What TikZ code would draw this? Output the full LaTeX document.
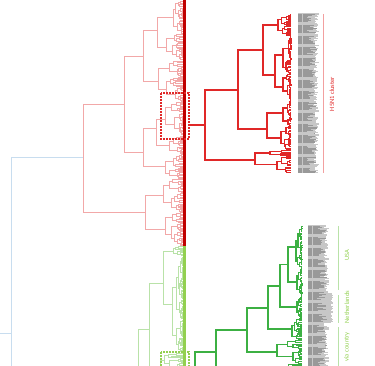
\documentclass[tikz,border=0pt]{standalone}
\usepackage{fontspec}
\setmainfont{Carlito}
\usetikzlibrary{positioning}

\definecolor{treepink}{HTML}{F2A8A8}
\definecolor{treered}{HTML}{E02828}
\definecolor{barred}{HTML}{C00000}
\definecolor{treegreen}{HTML}{3CB043}
\definecolor{palegreen}{HTML}{B9E2A8}
\definecolor{bargreen}{HTML}{92D050}
\definecolor{treeblue}{HTML}{C8DDEF}
\definecolor{labelred}{HTML}{F2A0A0}

% recursive clade: #1 x of clade root, #2 top, #3 bottom, #4 x of leaves, #5 line style
\newcommand\clade[5]{%
  \begingroup
  \pgfmathsetmacro\cspan{#3-#2}%
  \ifdim\cspan pt<4pt
    \pgfmathsetmacro\cya{#2+0.25*\cspan}%
    \pgfmathsetmacro\cyb{#2+0.75*\cspan}%
    \draw[#5] (#4,\cya) -| (#1,\cyb) -- (#4,\cyb);
  \else
    \pgfmathsetmacro\csplit{#2+(0.3+0.4*rnd)*\cspan}%
    \pgfmathsetmacro\cya{(#2+\csplit)/2}%
    \pgfmathsetmacro\cyb{(\csplit+#3)/2}%
    \pgfmathsetmacro\cxa{#1+(0.2+0.45*rnd)*(#4-#1)}%
    \pgfmathsetmacro\cxb{#1+(0.2+0.45*rnd)*(#4-#1)}%
    \draw[#5] (\cxa,\cya) -| (#1,\cyb) -- (\cxb,\cyb);
    \edef\cnext{\noexpand\clade{\cxa}{#2}{\csplit}{#4}{#5}%
      \noexpand\clade{\cxb}{\csplit}{#3}{#4}{#5}}%
    \cnext
  \fi
  \endgroup}

\begin{document}
\begin{tikzpicture}[
    x=1pt,y=-1pt,
    pinkline/.style={draw=treepink, line width=0.75pt},
    faintgreen/.style={draw=palegreen, line width=0.75pt},
    blueline/.style={draw=treeblue, line width=1pt},
    redline/.style={draw=treered, line width=1.1pt},
    greenline/.style={draw=treegreen, line width=1.1pt},
    zoombox/.style={dash pattern=on 2pt off 1pt, line width=1.1pt},
    bracket/.style={line width=0.7pt},
    grouptext/.style={font=\fontsize{6.5}{7}\selectfont, rotate=90, inner sep=0pt}
]
    \useasboundingbox (0,0) rectangle (375,366);
    \clip (0,0) rectangle (375,366);
    \pgfmathsetseed{11}

    % --- Root (blue) ---
    \draw[blueline] (0,333) -- (11,333);
    \draw[blueline] (11,380) -- (11,158) -- (83,158);

    % --- Full tree, upper part (pink) ---
    \draw[pinkline] (124,104) -| (83,212) -- (145,212);
    \draw[pinkline] (143,56) -| (124,152) -- (143,152);
    \draw[pinkline] (157,30) -| (143,81) -- (158,81);
    \clade{157}{0}{60}{183}{pinkline}
    \clade{158}{60}{102}{183}{pinkline}
    \draw[pinkline] (156,128) -| (143,166) -- (165,166);
    \clade{156}{102}{154}{183}{pinkline}
    \clade{165}{154}{178}{183}{pinkline}
    \draw[pinkline] (163,195) -| (145,229) -- (165,229);
    \clade{163}{178}{212}{183}{pinkline}
    \clade{165}{212}{246}{183}{pinkline}

    % --- Full tree, lower part (green) ---
    \draw[faintgreen] (149,329) -| (138,400);
    \draw[faintgreen] (163,283) -| (149,375) -- (160,375);
    \draw[faintgreen] (173,251) -| (163,304) -- (172,304);
    \clade{173}{246}{256}{183}{faintgreen}
    \clade{172}{256}{352}{183}{faintgreen}
    \clade{160}{352}{398}{183}{faintgreen}

    % --- Cluster bars ---
    \draw[draw=barred, line width=3pt] (184,0) -- (184,246);
    \draw[draw=bargreen, line width=3pt] (184,246) -- (184,366);

    % --- Zoom boxes ---
    \draw[zoombox, draw=treered] (161,93) rectangle (189,139);
    \draw[zoombox, draw=bargreen] (161,352) rectangle (189,380);

    % --- H5N1 cluster (red) ---
    \draw[redline] (189,125) -- (205,125);
    \draw[redline] (238,90) -| (205,160) -- (255,160);
    \draw[redline] (263,50) -| (238,129) -- (267,129);
    \draw[redline] (278,25) -| (263,75) -- (275,75);
    \clade{278}{14}{36}{291}{redline}
    \draw[redline] (283,55) -| (275,87) -- (283,87);
    \clade{283}{36}{74}{291}{redline}
    \clade{283}{74}{100}{291}{redline}
    \draw[redline] (283,113) -| (267,138) -- (281,138);
    \clade{283}{100}{126}{291}{redline}
    \clade{281}{126}{150}{291}{redline}
    \draw[redline] (270,153) -| (255,164.5) -- (277,164.5);
    \clade{270}{150}{156}{291}{redline}
    \clade{277}{156}{173}{291}{redline}

    % --- Lower cluster (green) ---
    \draw[greenline] (216,352) -| (195,400);
    \draw[greenline] (247,330) -| (216,374) -- (250,374);
    \clade{250}{364}{390}{302}{greenline}
    \draw[greenline] (268,308) -| (247,352) -- (277,352);
    \clade{277}{340}{364}{302}{greenline}
    \draw[greenline] (280,286) -| (268,329) -- (292,329);
    \clade{292}{318}{340}{302}{greenline}
    \draw[greenline] (288,264.5) -| (280,307) -- (297,307);
    \clade{297}{296}{318}{302}{greenline}
    \draw[greenline] (296,247) -| (288,282) -- (297,282);
    \clade{296}{226}{268}{302}{greenline}
    \clade{297}{268}{296}{302}{greenline}

    % --- Strain label columns ---
    \foreach \r in {0,...,144} {
        \pgfmathsetmacro\rowy{14+1.1*\r}
        \pgfmathsetmacro\rowlen{16+5*rnd}
        \pgfmathsetmacro\rowtxt{4+10*rnd}
        \draw[draw=black!22, line width=1.15pt] (298,\rowy) -- ++(\rowlen,0);
        \draw[draw=black!40, line width=0.45pt] (298,\rowy) -- ++(3.5,0)
            (303,\rowy) -- ++(\rowtxt,0);
    }
    \foreach \r in {0,...,127} {
        \pgfmathsetmacro\rowy{226+1.1*\r}
        \pgfmathsetmacro\rowlen{16+5*rnd}
        \ifdim\rowy pt>293pt \ifdim\rowy pt<323pt \pgfmathsetmacro\rowlen{23+2*rnd}\fi\fi
        \pgfmathsetmacro\rowtxt{4+10*rnd}
        \draw[draw=black!22, line width=1.15pt] (308,\rowy) -- ++(\rowlen,0);
        \draw[draw=black!40, line width=0.45pt] (308,\rowy) -- ++(3.5,0)
            (313,\rowy) -- ++(\rowtxt,0);
    }

    % --- Group brackets and names ---
    \draw[bracket, draw=labelred] (323,14) -- (323,173);
    \node[grouptext, text=treered] (h5n1) at (332,94) {H5N1 cluster};

    \draw[bracket, draw=palegreen] (338,226) -- (338,290);
    \draw[bracket, draw=palegreen] (338,295) -- (338,323);
    \draw[bracket, draw=palegreen] (338,327) -- (338,370);
    \node[grouptext, text=bargreen] (usa) at (347,255) {USA};
    \node[grouptext, text=bargreen] (nl) at (347,307) {Netherlands};
    \node[grouptext, text=bargreen, anchor=east] (country) at (347,332) {via country};

\end{tikzpicture}
\end{document}
